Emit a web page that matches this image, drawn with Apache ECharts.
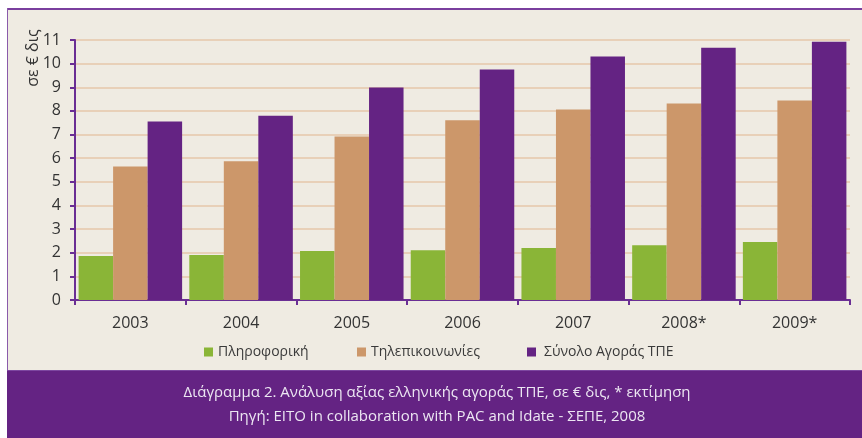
<!DOCTYPE html>
<html>
<head>
<meta charset="utf-8">
<script src="https://cdn.jsdelivr.net/npm/echarts@6/dist/echarts.min.js"></script>
<style>
html,body{margin:0;padding:0;background:#fff;}
#chart{width:862px;height:438px;}
</style>
</head>
<body>
<div id="chart"></div>
<script>
const categories = ['2003','2004','2005','2006','2007','2008*','2009*'];
const seriesNames = ['Πληροφορική','Τηλεπικοινωνίες','Σύνολο Αγοράς ΤΠΕ'];
const informatics = [1.86, 1.90, 2.07, 2.10, 2.20, 2.32, 2.45];
const telecom = [5.65, 5.87, 6.92, 7.60, 8.06, 8.31, 8.44];
const totalICT = [7.55, 7.80, 8.99, 9.75, 10.30, 10.67, 10.93];
const yTicks = [0,1,2,3,4,5,6,7,8,9,10,11];
const yAxisName = 'σε € δις';
const captionLine1 = 'Διάγραμμα 2. Ανάλυση αξίας ελληνικής αγοράς ΤΠΕ, σε € δις, * εκτίμηση';
const captionLine2 = 'Πηγή: EITO in collaboration with PAC and Idate - ΣΕΠΕ, 2008';

const colors = ['#8ab537','#cc976a','#642383'];
const FONT = '"Open Sans", sans-serif';
const chart = echarts.init(document.getElementById('chart'));

const legendPos = [199, 352, 522];
const legendPad = [0, 0, 3];

chart.setOption({
  backgroundColor: '#ffffff',
  animation: false,
  textStyle: {fontFamily: FONT},
  graphic: [
    {type:'rect', z:-10, shape:{x:7, y:8, width:855, height:362}, style:{fill:'#efebe2'}},
    {type:'rect', z:-9, shape:{x:7, y:8, width:855, height:2}, style:{fill:'#7a3f9e'}},
    {type:'rect', z:-9, shape:{x:7, y:8, width:1, height:362}, style:{fill:'#8a5aaa'}},
    {type:'rect', z:-9, shape:{x:7, y:370, width:855, height:68}, style:{fill:'#642383'}},
    {type:'rect', z:-8, shape:{x:7, y:370, width:855, height:1}, style:{fill:'#7d47a0'}},
    {type:'text', x: 33, y: 58, rotation: Math.PI/2, z:5,
      style:{text: yAxisName, fill:'#333', font:'16px ' + FONT, textAlign:'center', textVerticalAlign:'middle'}},
    {type:'text', x: 437, y: 393, z:5,
      style:{text: captionLine1, fill:'#ece6f2', font:'15px ' + FONT, textAlign:'center', textVerticalAlign:'middle'}},
    {type:'text', x: 437, y: 417, z:5,
      style:{text: captionLine2, fill:'#ece6f2', font:'15px ' + FONT, textAlign:'center', textVerticalAlign:'middle'}}
  ],
  legend: seriesNames.map((n,i)=>({
    data:[n], left: legendPos[i], top: 340, icon:'rect', itemWidth:9, itemHeight:9,
    textStyle:{color:'#3a3a3a', fontSize:14, fontFamily:FONT, padding:[0,0,0,legendPad[i]]}
  })),
  grid: {left:75, right:12, top:40, bottom:138, containLabel:false},
  xAxis: {
    type:'category', data: categories,
    axisLine:{lineStyle:{color:'#6a2e94', width:2}},
    axisTick:{show:true, length:5, alignWithLabel:false, lineStyle:{color:'#6a2e94', width:2}},
    axisLabel:{color:'#333', fontSize:16, margin:15, fontFamily:FONT}
  },
  yAxis: {
    type:'value', min:0, max:11, interval:1,
    axisLine:{show:true, lineStyle:{color:'#6a2e94', width:2}},
    axisTick:{show:true, length:5, lineStyle:{color:'#6a2e94', width:2}},
    axisLabel:{color:'#333', fontSize:16, margin:14, fontFamily:FONT,
      formatter: v => yTicks.includes(v) ? String(v) : ''},
    splitLine:{lineStyle:{color:'#e8d0b8', width:2}}
  },
  series: [
    {name: seriesNames[0], type:'bar', data: informatics, itemStyle:{color:colors[0]}, barGap:'0%', barCategoryGap:'6.5%'},
    {name: seriesNames[1], type:'bar', data: telecom, itemStyle:{color:colors[1]}, barGap:'0%', barCategoryGap:'6.5%'},
    {name: seriesNames[2], type:'bar', data: totalICT, itemStyle:{color:colors[2]}, barGap:'0%', barCategoryGap:'6.5%'}
  ]
});
</script>
</body>
</html>
